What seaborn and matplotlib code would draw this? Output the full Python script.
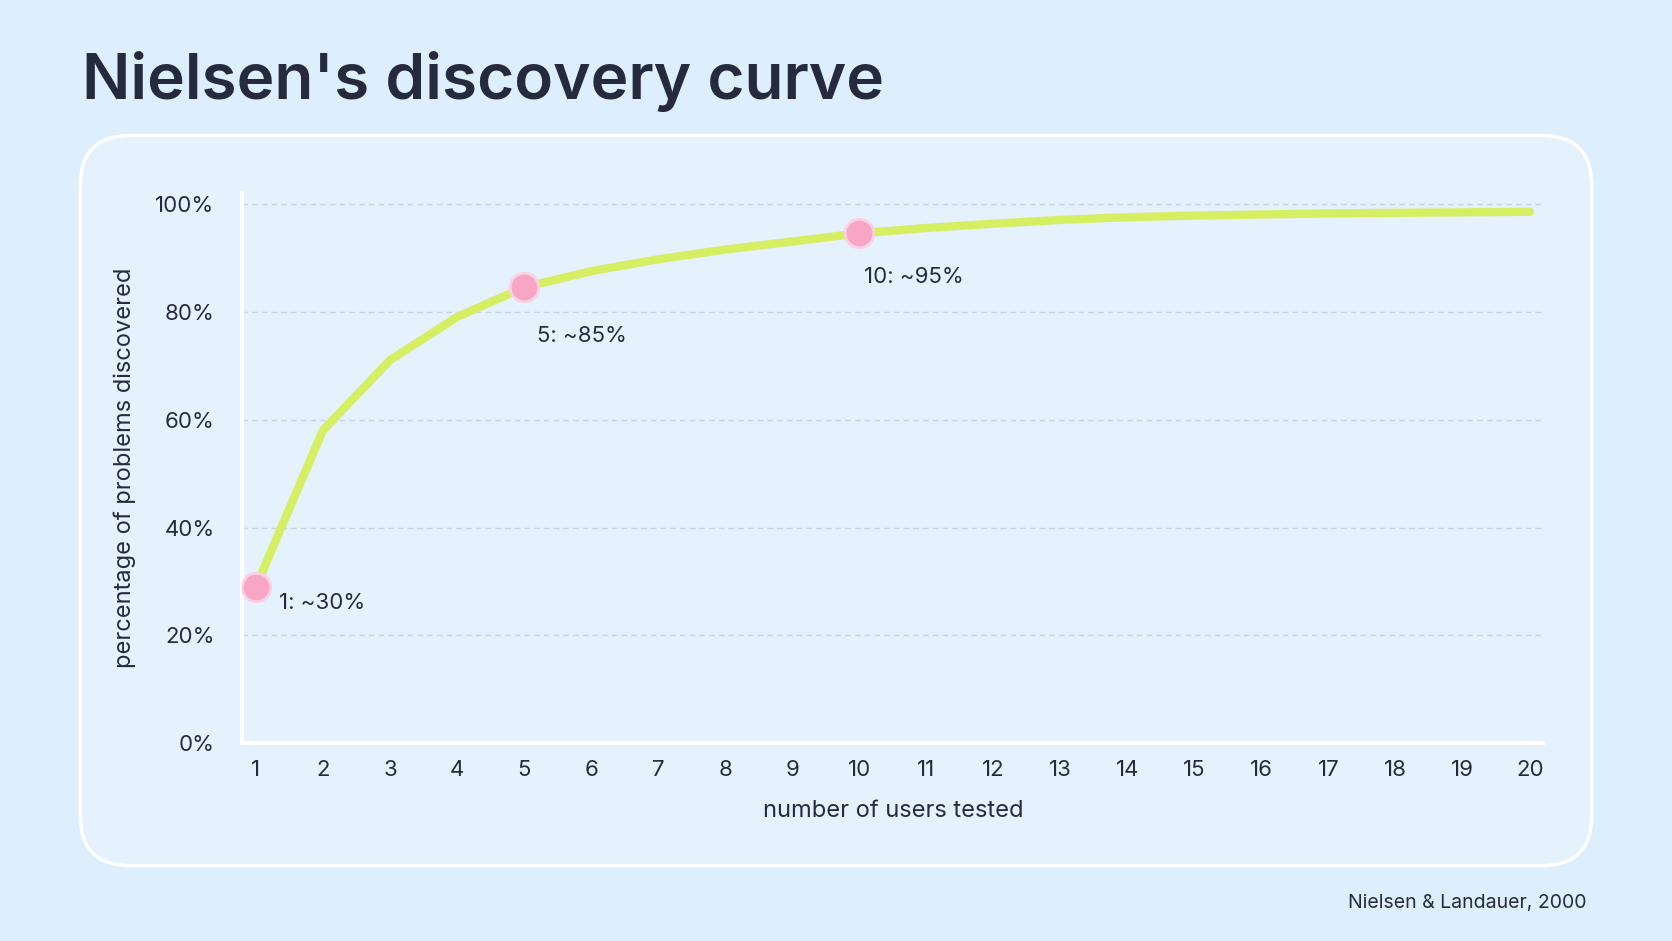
import matplotlib
matplotlib.use("Agg")
import matplotlib.pyplot as plt
import seaborn as sns
import pandas as pd
from matplotlib.patches import FancyBboxPatch

# --- data ---
users = list(range(1, 21))
pct_found = [29, 58, 71, 79, 84.5, 87.5, 89.7, 91.5, 93, 94.5,
             95.5, 96.3, 97, 97.5, 97.8, 98, 98.2, 98.3, 98.4, 98.5]
marked_users = [1, 5, 10]
marked_labels = ["1: ~30%", "5: ~85%", "10: ~95%"]
y_ticks = [0, 20, 40, 60, 80, 100]

BG = "#ddeefc"
PANEL = "#e5f1fd"
TEXT = "#262a3d"
LINE = "#d6ef62"
PINK = "#f7a6c6"

sns.set_theme(style="white")
plt.rcParams['font.family'] = ['Inter', 'DejaVu Sans']

fig = plt.figure(figsize=(16.72, 9.41), dpi=100, facecolor=BG)

# rounded panel behind the plot
panel = FancyBboxPatch((0.048, 0.08), 0.904, 0.776,
                       boxstyle="round,pad=0,rounding_size=0.03",
                       transform=fig.transFigure, facecolor=PANEL,
                       edgecolor="white", linewidth=2.5, zorder=-5,
                       mutation_aspect=16.72 / 9.41)
fig.patches.append(panel)

fig.text(0.049, 0.913, "Nielsen's discovery curve", fontsize=46,
         fontweight="semibold", color=TEXT, va="center", ha="left")
fig.text(0.949, 0.04, "Nielsen & Landauer, 2000", fontsize=14,
         color=TEXT, ha="right", va="center")

ax = fig.add_axes([0.145, 0.21, 0.778, 0.585])
ax.set_facecolor("none")
ax.set_zorder(1)

df = pd.DataFrame({"users": users, "pct": pct_found})
sns.lineplot(data=df, x="users", y="pct", ax=ax, color=LINE, linewidth=6,
             solid_capstyle="round", zorder=3)

mk = df[df["users"].isin(marked_users)]
sns.scatterplot(data=mk, x="users", y="pct", ax=ax, s=420, color=PINK,
                edgecolor="#fbd0e2", linewidth=2, zorder=4)
offsets = [(0.35, -3), (0.2, -9), (0.07, -8)]
for (u, p), lab, (dx, dy) in zip(zip(mk["users"], mk["pct"]), marked_labels, offsets):
    ax.text(u + dx, p + dy, lab, fontsize=16, color=TEXT, va="center", ha="left")

ax.set_xlim(0.8, 20.2)
ax.set_ylim(0, 102)
ax.set_xticks(users)
ax.set_yticks(y_ticks)
ax.set_yticklabels([f"{t}%" for t in y_ticks])
ax.tick_params(axis="both", labelsize=16, colors=TEXT, length=0, pad=12)
ax.tick_params(axis="y", pad=20)
for t in y_ticks[1:]:
    ax.axhline(t, color="#c3d5e6", linewidth=1, linestyle=(0, (4, 3)), zorder=1)

for s in ["top", "right"]:
    ax.spines[s].set_visible(False)
for s in ["left", "bottom"]:
    ax.spines[s].set_color("white")
    ax.spines[s].set_linewidth(3)

ax.set_xlabel("number of users tested", fontsize=17, color=TEXT, labelpad=14)
ax.set_ylabel("percentage of problems discovered", fontsize=17, color=TEXT, labelpad=14)

fig.savefig("out.png", dpi=100, facecolor=BG)
